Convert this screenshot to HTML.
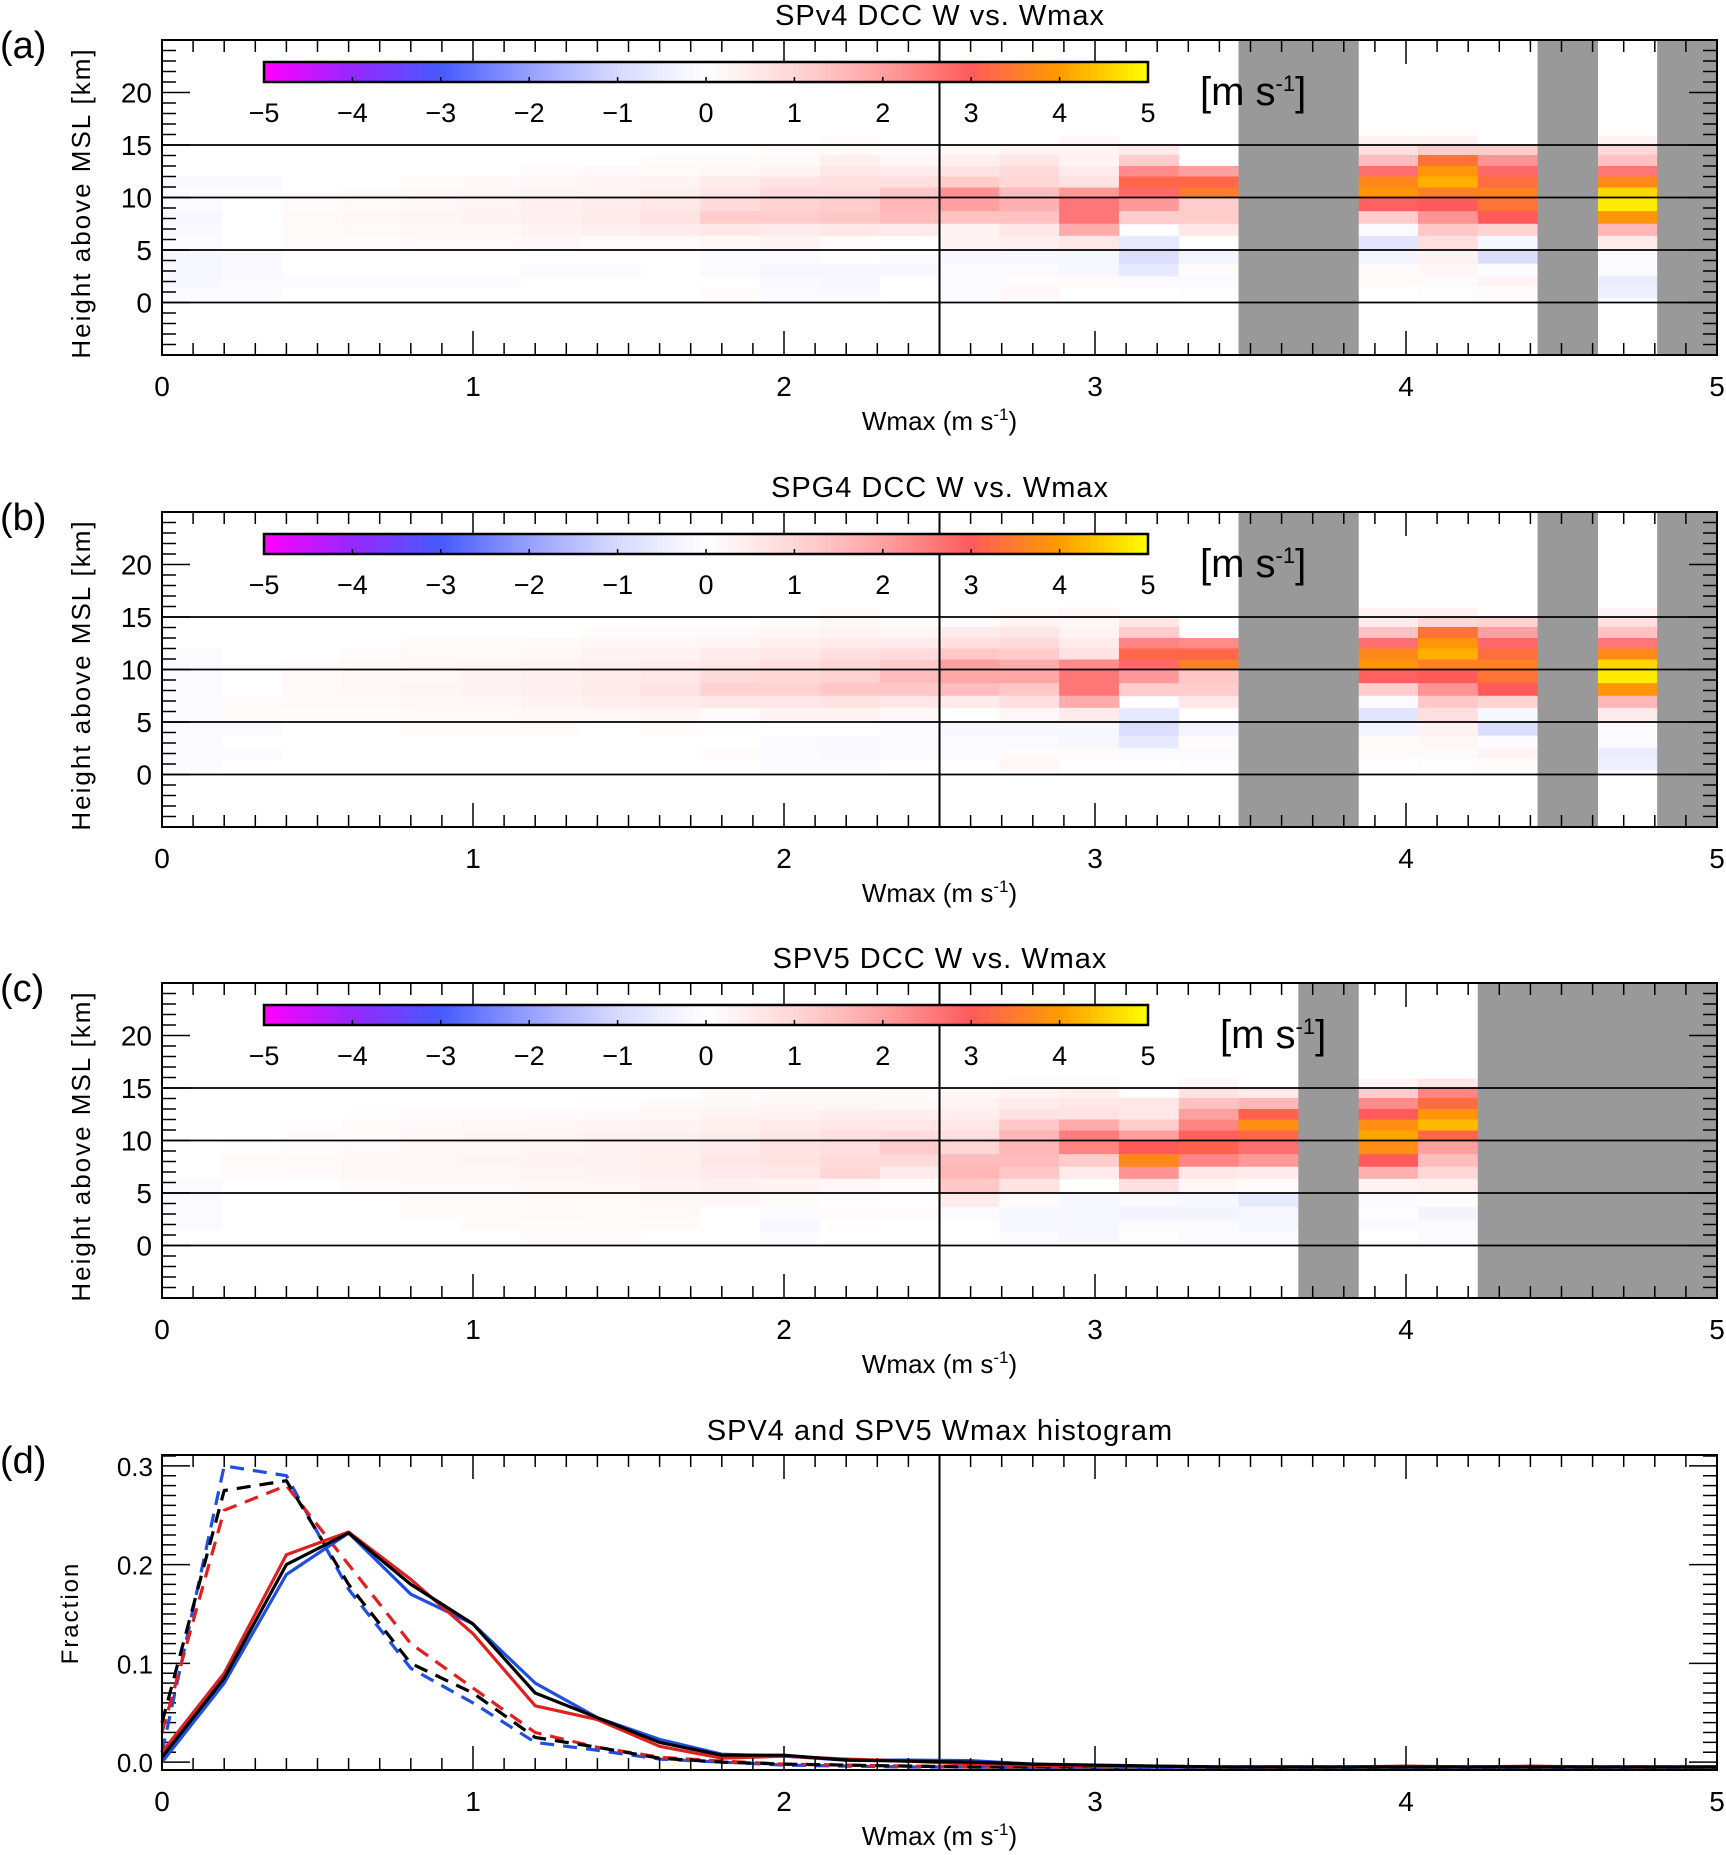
<!DOCTYPE html>
<html><head><meta charset="utf-8"><style>
html,body{margin:0;padding:0;background:#fff;}
svg{display:block;font-family:"Liberation Sans",sans-serif;}
</style></head><body>
<svg id="fig" width="1726" height="1855" viewBox="0 0 1726 1855" xmlns="http://www.w3.org/2000/svg"></svg>
<script>
// ---------- data ----------
const heightEdges = [15.9,15,14.05,13,12,10.95,10,8.7,7.5,6.35,5,3.7,2.5,1.5,0.4]; // km, top->bottom
const nCols = 26;
const grayA = [18,19,23,25];
const grayB = [18,19,23,25];
const grayC = [19,22,23,24,25];
// rows top->bottom, 26 columns each (W in m/s)
const zA = [
[0,0,0,0,0,0,0,0,0,0,0,.1,0,0,0,.2,0,0,0,0,.3,.3,0,0,.3,0],
[0,0,0,0,0,0,0,0,0,0,.1,.1,.1,.15,.3,.3,.5,0,0,0,.8,1.2,1.2,0,1.0,0],
[0,0,0,0,0,0,0,0,.1,.1,.15,.4,.2,.4,.6,.3,1.2,0,0,0,1.5,3.4,2.2,0,1.4,0],
[0,0,0,0,0,0,.1,.15,.15,.2,.3,.6,.5,.7,.9,.5,2.3,2.0,0,0,2.7,3.9,2.8,0,2.6,0],
[-.15,-.15,0,0,.1,.15,.2,.25,.3,.5,.7,.8,.8,1.2,1.0,.7,3.2,3.2,0,0,3.7,4.2,3.3,0,3.7,0],
[-.1,-.1,0,.1,.15,.2,.25,.3,.4,.6,.9,.9,1.3,2.2,1.5,2.1,2.8,3.5,0,0,3.9,3.6,3.6,0,4.6,0],
[-.1,0,.1,.15,.2,.25,.35,.45,.6,.9,1.1,1.2,1.6,2.0,1.7,2.6,2.1,1.2,0,0,2.9,3.0,3.4,0,4.8,0],
[-.2,0,.15,.2,.25,.3,.4,.5,.7,1.2,1.2,1.3,1.5,1.4,1.4,2.6,1.2,1.2,0,0,1.2,2.2,3.0,0,3.9,0],
[-.15,0,.1,.15,.2,.2,.3,.4,.5,.6,.5,.6,.5,.3,.6,1.8,0,.6,0,0,-.1,1.3,1.1,0,1.6,0],
[-.1,0,.1,.1,.15,.15,.2,.15,.15,.2,.3,.1,0,.3,.4,.6,-.6,0,0,0,-.7,.8,-.2,0,.5,0],
[-.2,-.15,0,0,0,0,0,0,0,-.1,-.1,0,-.1,-.2,-.2,-.2,-.9,-.3,0,0,-.3,.3,-.9,0,-.1,0],
[-.2,-.15,0,0,0,0,-.1,-.1,0,-.1,-.2,-.2,-.2,-.1,-.1,-.2,-.6,.1,0,0,.1,.2,-.1,0,-.1,0],
[-.2,-.1,-.1,-.1,-.1,-.1,0,0,0,0,-.15,-.2,0,-.1,.1,.1,-.1,-.1,0,0,.1,.1,.3,0,-.5,0],
[-.1,-.1,0,0,0,0,0,0,0,.1,-.1,-.15,0,-.1,.2,0,0,-.05,0,0,0,-.05,.1,0,-.4,0]
];
const zB = [
[0,0,0,0,0,0,0,0,0,0,0,.1,0,0,.1,.2,0,0,0,0,.3,.3,0,0,.3,0],
[0,0,0,0,0,0,0,0,.05,.05,.1,.2,.1,.1,.3,.2,.6,0,0,0,.5,1.0,1.1,0,.8,0],
[0,0,0,0,0,0,0,.1,.1,.15,.2,.3,.2,.5,.6,.3,1.2,0,0,0,1.4,3.4,2.0,0,1.4,0],
[0,0,0,0,.1,.1,.15,.2,.2,.25,.4,.5,.5,.8,.9,.5,2.4,2.3,0,0,2.7,3.9,2.8,0,2.6,0],
[-.1,0,0,.1,.15,.15,.2,.3,.3,.5,.6,.8,.9,1.3,1.2,.7,3.2,3.2,0,0,3.7,4.2,3.3,0,3.7,0],
[-.1,0,.1,.15,.2,.25,.3,.4,.5,.6,.8,1.0,1.2,2.0,1.8,2.3,2.8,3.6,0,0,3.9,3.6,3.6,0,4.6,0],
[-.1,0,.15,.2,.2,.3,.35,.45,.6,.9,1.0,1.1,1.5,1.9,1.9,2.6,2.1,1.3,0,0,2.9,3.0,3.4,0,4.8,0],
[-.1,0,.15,.2,.25,.3,.4,.5,.7,1.1,1.1,1.3,1.3,1.5,1.3,2.6,1.2,1.2,0,0,1.2,2.2,3.0,0,3.9,0],
[-.1,.1,.15,.15,.2,.2,.3,.4,.5,.6,.6,.7,.6,.5,.8,1.8,0,.6,0,0,-.1,1.3,1.1,0,1.6,0],
[-.1,.1,.1,.1,.15,.15,.2,.2,.25,.1,.3,.3,.2,0,.2,.5,-.6,0,0,0,-.7,.8,-.2,0,.5,0],
[-.1,-.1,0,0,.1,.1,.1,0,.1,-.05,0,0,-.1,-.2,-.2,-.2,-.9,-.3,0,0,-.3,.3,-.9,0,-.1,0],
[-.1,0,0,0,0,0,0,0,0,0,-.1,-.15,-.1,-.1,-.1,-.2,-.6,.1,0,0,.1,.2,-.1,0,-.1,0],
[-.1,-.1,0,0,0,0,0,0,0,.1,-.1,-.15,-.1,-.1,.1,.1,-.1,-.1,0,0,.1,.1,.3,0,-.5,0],
[-.1,0,0,0,0,0,0,0,0,0,-.1,-.1,0,0,.2,0,0,-.05,0,0,0,-.05,.1,0,-.4,0]
];
const zC = [
[0,0,0,0,0,0,0,0,0,0,0,0,0,0,.1,.1,0,.2,0,0,.3,.6,0,0,0,0],
[0,0,0,0,0,0,0,0,0,.1,.15,.15,.1,.2,.3,.4,0,.7,.5,0,1.2,2.4,0,0,0,0],
[0,0,0,0,0,0,0,.05,.1,.15,.2,.2,.15,.3,.5,.6,.6,1.4,1.6,0,2.3,3.3,0,0,0,0],
[0,0,0,.05,.1,.1,.15,.15,.2,.3,.3,.4,.4,.4,.7,.7,.6,2.0,3.1,0,3.0,3.9,0,0,0,0],
[0,0,.05,.1,.15,.2,.2,.25,.3,.4,.5,.6,.6,.6,1.3,1.8,1.2,2.4,3.8,0,3.8,4.3,0,0,0,0],
[0,0,.1,.1,.2,.25,.3,.35,.4,.5,.6,.8,.9,.8,1.6,2.5,2.0,2.9,3.2,0,4.1,3.2,0,0,0,0],
[0,.05,.1,.15,.2,.2,.25,.3,.4,.5,.7,.8,1.2,1.0,1.6,2.4,3.0,3.1,2.7,0,3.8,2.0,0,0,0,0],
[0,.1,.15,.2,.2,.25,.3,.35,.4,.6,.7,.9,.9,1.5,1.5,1.2,3.7,2.4,2.1,0,3.0,1.5,0,0,0,0],
[0,.1,.15,.2,.2,.2,.25,.3,.4,.5,.6,1.0,.5,1.6,1.3,.5,2.2,.6,.5,0,1.7,1.0,0,0,0,0],
[-.1,0,0,.1,.15,.15,.2,.2,.3,.35,.3,.2,.1,1.3,.7,0,.8,.2,.1,0,.3,.4,0,0,0,0],
[-.1,0,0,0,.1,.1,.15,.15,.2,.2,.1,.05,0,.5,.1,-.2,-.15,-.2,-.6,0,-.1,.05,0,0,0,0],
[-.1,0,0,0,.1,.1,.15,.1,.15,0,-.1,.1,.1,-.1,-.2,-.2,-.3,-.3,-.2,0,-.05,-.3,0,0,0,0],
[-.1,0,0,0,0,.1,.1,.1,.1,0,-.2,.05,0,0,-.2,-.25,-.1,-.1,-.2,0,-.1,-.1,0,0,0,0],
[0,0,0,0,0,0,.1,.1,0,0,-.1,0,0,0,-.1,-.2,.05,-.1,-.1,0,0,-.1,0,0,0,0]
];
// histogram panel (d)
const histX = [0,0.2,0.4,0.6,0.8,1.0,1.2,1.4,1.6,1.8,2.0,2.2,2.4,2.6,2.8,3.0,3.2,3.4,3.6,3.8,4.0,4.2,4.4,4.6,4.8,5.0];
const solidBlack = [.005,.085,.2,.232,.18,.14,.07,.045,.02,.007,.007,.002,.001,0,-.002,-.003,-.004,-.005,-.005,-.005,-.005,-.005,-.005,-.005,-.005,-.005];
const solidBlue  = [0,.08,.19,.232,.17,.14,.08,.045,.023,.008,.006,.002,.002,.0015,-.002,-.004,-.005,-.005,-.005,-.005,-.005,-.005,-.005,-.005,-.005,-.005];
const solidRed   = [.01,.09,.21,.233,.185,.13,.057,.043,.016,.004,.006,.003,.001,-.002,-.003,-.004,-.004,-.005,-.005,-.005,-.004,-.005,-.004,-.005,-.005,-.005];
const dashBlack  = [.04,.275,.285,.18,.1,.07,.025,.015,.004,0,-.002,-.003,-.004,-.005,-.005,-.005,-.005,-.005,-.005,-.005,-.005,-.005,-.005,-.005,-.005,-.005];
const dashBlue   = [.01,.3,.29,.175,.095,.06,.02,.012,.003,0,-.003,-.004,-.005,-.005,-.006,-.006,-.006,-.006,-.006,-.006,-.006,-.006,-.006,-.006,-.006,-.006];
const dashRed    = [.03,.255,.28,.2,.12,.075,.03,.015,.005,.001,-.002,-.003,-.004,-.005,-.005,-.005,-.005,-.005,-.005,-.005,-.005,-.005,-.005,-.005,-.005,-.005];
const cbarTicks = [-5,-4,-3,-2,-1,0,1,2,3,4,5];
const xTickLabels = [0,1,2,3,4,5];
const yTickLabels = [0,5,10,15,20];
const dTickLabels = [0.0,0.1,0.2,0.3];
const titles = ["SPv4 DCC W vs. Wmax","SPG4 DCC W vs. Wmax","SPV5 DCC W vs. Wmax","SPV4 and SPV5 Wmax histogram"];
const letters = ["(a)","(b)","(c)","(d)"];

// ---------- layout ----------
const NS="http://www.w3.org/2000/svg";
const svg=document.getElementById('fig');
const X0=162,X1=1717,H=315;
const tops=[40,512,983,1455];
function el(tag,attrs,parent){const e=document.createElementNS(NS,tag);for(const k in attrs)e.setAttribute(k,attrs[k]);(parent||svg).appendChild(e);return e;}
const xs=v=>X0+(X1-X0)*v/5;

const stops=[[-5,[255,0,255]],[-4,[150,40,255]],[-3,[70,90,255]],[-2,[150,160,255]],[-1,[215,218,255]],[0,[255,255,255]],[1,[255,215,215]],[2,[255,160,160]],[3,[255,90,90]],[4,[255,155,0]],[5,[255,255,0]]];
function cmap(v){v=Math.max(-5,Math.min(5,v));for(let i=0;i<stops.length-1;i++){const [a,ca]=stops[i],[b,cb]=stops[i+1];if(v<=b){const t=(v-a)/(b-a);return 'rgb('+ca.map((c,j)=>Math.round(c+(cb[j]-c)*t)).join(',')+')';}}return 'rgb(255,255,0)';}

function xtitle(g,y){
  const t=el('text',{x:xs(2.5),y:y,'text-anchor':'middle','font-size':26},g);
  
  t.appendChild(document.createTextNode('Wmax (m s'));
  const s=el('tspan',{dy:-10,'font-size':17},t);s.textContent='-1';
  const s2=el('tspan',{dy:10},t);s2.textContent=')';
}
function xAxis(g,top){
  const bot=top+H;
  for(let i=0;i<=50;i++){const x=xs(i/10);const L=i%10===0?24:12;
    el('line',{x1:x,x2:x,y1:bot,y2:bot-L,stroke:'#000','stroke-width':1.5},g);
    el('line',{x1:x,x2:x,y1:top,y2:top+L,stroke:'#000','stroke-width':1.5},g);}
  xTickLabels.forEach(v=>{const t=el('text',{x:xs(v),y:bot+41,'text-anchor':'middle','font-size':28},g);t.textContent=v;
    });
  xtitle(g,bot+75);
}

// heatmap panels
[[zA,grayA],[zB,grayB],[zC,grayC]].forEach(([z,gray],p)=>{
  const top=tops[p],bot=top+H;
  const ys=v=>top+H*(25-v)/30;
  const g=el('g',{});
  
  for(let r=0;r<z.length;r++)for(let c=0;c<nCols;c++){
    const v=z[r][c]; if(v===0)continue;
    const x0=xs(c*5/nCols),x1=xs((c+1)*5/nCols),y0=ys(heightEdges[r]),y1=ys(heightEdges[r+1]);
    const rc=el('rect',{x:x0,y:y0,width:x1-x0+0.5,height:y1-y0+0.5,fill:cmap(v)},g);
    
    
  }
  gray.forEach(c=>{const x0=xs(c*5/nCols),x1=xs((c+1)*5/nCols);
    const rc=el('rect',{x:x0,y:top,width:x1-x0+0.6,height:H,fill:'#999'},g);
    
    });
  [0,5,10,15].forEach(v=>el('line',{x1:X0,x2:X1,y1:ys(v),y2:ys(v),stroke:'#000','stroke-width':1.8},g));
  el('line',{x1:xs(2.5),x2:xs(2.5),y1:top,y2:bot,stroke:'#000','stroke-width':2},g);
  for(let k=-5;k<=25;k++){const y=ys(k),L=k%5===0?28:14;
    el('line',{x1:X0,x2:X0+L,y1:y,y2:y,stroke:'#000','stroke-width':1.5},g);
    el('line',{x1:X1,x2:X1-L,y1:y,y2:y,stroke:'#000','stroke-width':1.5},g);}
  yTickLabels.forEach(v=>{const t=el('text',{x:152,y:ys(v)+10,'text-anchor':'end','font-size':28},g);t.textContent=v;
    });
  const yt=el('text',{x:0,y:0,'text-anchor':'middle','font-size':26,'letter-spacing':'2',transform:`translate(90,${top+163}) rotate(-90)`},g);
  yt.textContent='Height above MSL [km]';
  
  el('rect',{x:X0,y:top,width:X1-X0,height:H,fill:'none',stroke:'#000','stroke-width':2},g);
  xAxis(g,top);
  // colorbar
  const cb=el('g',{},g);
  const cx0=264,cx1=1148,cy=top+22,ch=20;
  const n=200;
  for(let i=0;i<n;i++){const v=-5+10*(i+0.5)/n;el('rect',{x:cx0+(cx1-cx0)*i/n,y:cy,width:(cx1-cx0)/n+0.6,height:ch,fill:cmap(v)},cb);}
  el('rect',{x:cx0,y:cy,width:cx1-cx0,height:ch,fill:'none',stroke:'#000','stroke-width':2.5},cb);
  cbarTicks.forEach(v=>{const x=cx0+(cx1-cx0)*(v+5)/10;
    el('line',{x1:x,x2:x,y1:cy+ch,y2:cy+ch-5,stroke:'#000','stroke-width':1.5},cb);
    const t=el('text',{x:x,y:top+82,'text-anchor':'middle','font-size':27},cb);t.textContent=(v<0?'\u2212':'')+Math.abs(v);
    });
  const ux=p===2?1220:1200;
  const u=el('text',{x:ux,y:top+65,'font-size':40},g);
  
  u.appendChild(document.createTextNode('[m s'));
  const us=el('tspan',{dy:-14,'font-size':22},u);us.textContent='-1';
  const ue=el('tspan',{dy:14},u);ue.textContent=']';
});

// histogram panel
(function(){
  const top=tops[3],bot=top+H;
  const yMin=-0.008,yMax=0.311;
  const ys=v=>bot-H*(v-yMin)/(yMax-yMin);
  const g=el('g',{});
  for(let k=0;k<=31;k++){const v=k/100,y=ys(v),L=k%10===0?28:14;
    el('line',{x1:X0,x2:X0+L,y1:y,y2:y,stroke:'#000','stroke-width':1.5},g);
    el('line',{x1:X1,x2:X1-L,y1:y,y2:y,stroke:'#000','stroke-width':1.5},g);}
  dTickLabels.forEach(v=>{const t=el('text',{x:153,y:ys(v)+10,'text-anchor':'end','font-size':26},g);t.textContent=v.toFixed(1);
    });
  const yt=el('text',{x:0,y:0,'text-anchor':'middle','font-size':24,'letter-spacing':'2',transform:`translate(78,${top+158}) rotate(-90)`},g);
  yt.textContent='Fraction';
  el('line',{x1:xs(2.5),x2:xs(2.5),y1:top,y2:bot,stroke:'#000','stroke-width':2},g);
  const series=[[dashBlue,'#1f4fe0','14,9','dashed-blue-line'],[dashRed,'#e02020','14,9','dashed-red-line'],[dashBlack,'#000','14,9','dashed-black-line'],
    [solidBlue,'#1f4fe0','','solid-blue-line'],[solidRed,'#e02020','','solid-red-line'],[solidBlack,'#000','','solid-black-line']];
  series.forEach(([vals,col,dash,name])=>{
    const d=vals.map((v,i)=>(i?'L':'M')+xs(histX[i]).toFixed(1)+','+ys(v).toFixed(1)).join(' ');
    const pth=el('path',{d:d,fill:'none',stroke:col,'stroke-width':3.2,'stroke-dasharray':dash||'none','stroke-linejoin':'round'},g);
    
    
  });
  el('rect',{x:X0,y:top,width:X1-X0,height:H,fill:'none',stroke:'#000','stroke-width':2},g);
  xAxis(g,top);
})();

// titles & panel letters
titles.forEach((s,i)=>{const t=el('text',{x:940,y:tops[i]-15,'text-anchor':'middle','font-size':29,'letter-spacing':'1'});t.textContent=s;
  });
letters.forEach((s,i)=>{const t=el('text',{x:0,y:tops[i]+18,'font-size':38});t.textContent=s;
  });
</script>
</body></html>
